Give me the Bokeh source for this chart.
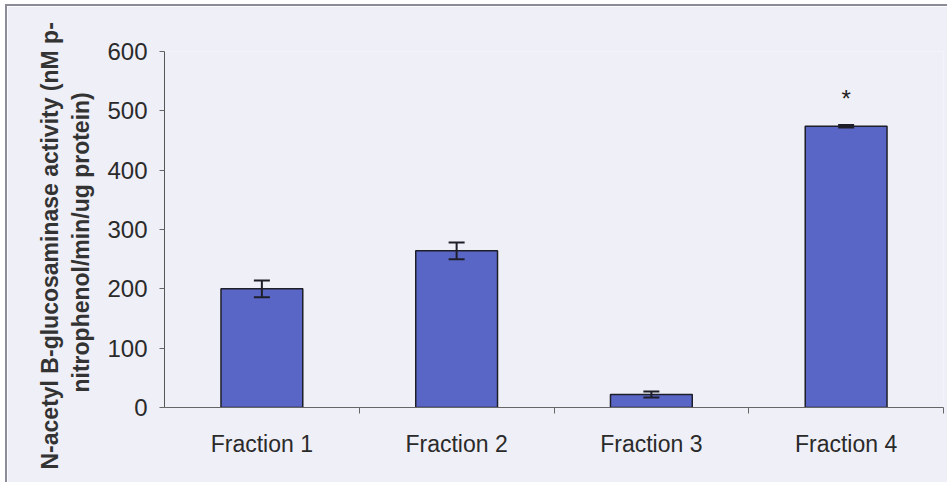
from bokeh.plotting import figure
from bokeh.models import (ColumnDataSource, FixedTicker, Range1d, Label, Whisker,
                          TeeHead, Title)
from bokeh.embed import file_html
from bokeh.resources import INLINE

# Enzyme activity per fraction
categories = ["Fraction 1", "Fraction 2", "Fraction 3", "Fraction 4"]
activity = [200, 264, 22, 474]
error = [14, 14, 5, 2]
y_ticks = [0, 100, 200, 300, 400, 500, 600]

FONT = "Liberation Sans"
BG = "#efeff7"
BAR = "#5a66c6"
INK = "#1e1e28"

xpos = [i + 0.5 for i in range(len(categories))]
src = ColumnDataSource(dict(
    x=xpos, top=activity,
    upper=[a + e for a, e in zip(activity, error)],
    lower=[a - e for a, e in zip(activity, error)],
))

p = figure(width=942, height=478, output_backend="svg", toolbar_location=None,
           x_range=Range1d(0, len(categories)), y_range=Range1d(0, 600),
           min_border_left=157, min_border_right=6, min_border_top=45,
           min_border_bottom=77,
           background_fill_color=BG, border_fill_color=BG,
           outline_line_color=None)
p.styles = {"margin-left": "5px", "margin-top": "4px",
            "border-left": "2px solid #8c8c98", "border-top": "2px solid #8c8c98"}

p.xgrid.visible = False
p.ygrid.visible = False

p.vbar(x="x", top="top", width=0.42, source=src, fill_color=BAR,
       line_color=INK, line_width=1.5)

p.add_layout(Whisker(source=src, base="x", upper="upper", lower="lower",
                     level="overlay", line_color=INK, line_width=2,
                     upper_head=TeeHead(size=16, line_color=INK, line_width=2),
                     lower_head=TeeHead(size=16, line_color=INK, line_width=2)))

# significance marker above the last bar
p.add_layout(Label(x=xpos[3], y=521, text="*", text_align="center",
                   text_baseline="alphabetic", text_font=FONT,
                   text_font_size="24px", text_color="#222222"))

# x axis: labels at bar centres, ticks at category boundaries
xa = p.xaxis[0]
xa.ticker = FixedTicker(ticks=xpos, minor_ticks=[1, 2, 3, 4])
xa.major_label_overrides = {x: c for x, c in zip(xpos, categories)}
xa.major_tick_out = 0
xa.major_tick_in = 0
xa.minor_tick_out = 6
xa.minor_tick_in = 0
xa.minor_tick_line_color = "#666666"
xa.axis_line_color = "#666666"
xa.major_label_text_font = FONT
xa.major_label_text_font_size = "23px"
xa.major_label_text_color = "#2a2a2a"
xa.major_label_standoff = 17

ya = p.yaxis[0]
ya.ticker = FixedTicker(ticks=y_ticks, minor_ticks=[])
ya.major_tick_out = 5
ya.major_tick_in = 0
ya.major_tick_line_color = "#666666"
ya.axis_line_color = "#555555"
ya.major_label_text_font = FONT
ya.major_label_text_font_size = "24px"
ya.major_label_text_color = "#2a2a2a"
ya.major_label_standoff = 12

# two-line rotated y-axis title, inner line first; each line starts near the
# bottom of the plot area
for txt, sd, off in [("nitrophenol/min/ug protein)", 21, 15),
                     ("N-acetyl B-glucosaminase activity (nM p-", -15, -62)]:
    p.add_layout(Title(text=txt, align="left", offset=off, standoff=sd,
                       text_font=FONT, text_font_size="23px",
                       text_font_style="bold", text_color="#333333"), "left")

open("out.html", "w").write(file_html(p, INLINE))
